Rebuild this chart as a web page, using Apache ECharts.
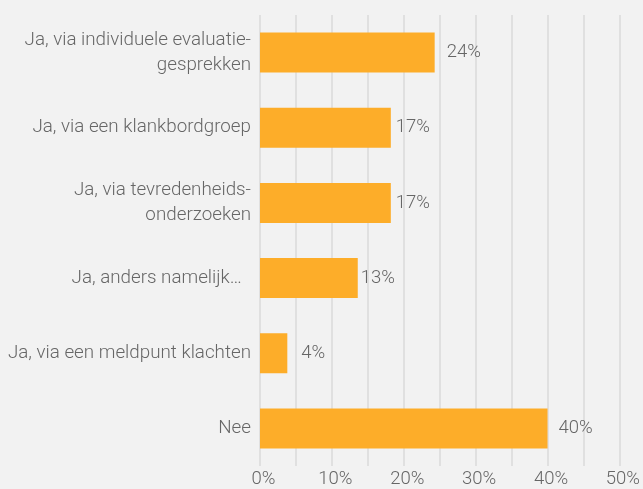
<!DOCTYPE html>
<html>
<head>
<meta charset="utf-8">
<script src="https://cdn.jsdelivr.net/npm/echarts@6/dist/echarts.min.js"></script>
<style>
  html, body { margin: 0; padding: 0; background: #f2f2f2; }
  #chart { width: 643px; height: 489px; }
</style>
</head>
<body>
<div id="chart"></div>
<script>
// antwoorden
var categories = [
  'Ja, via individuele evaluatie-\ngesprekken',
  'Ja, via een klankbordgroep',
  'Ja, via tevredenheids-\nonderzoeken',
  'Ja, anders namelijk…  ',
  'Ja, via een meldpunt klachten',
  'Nee'
];
var values = [24.3, 18.2, 18.2, 13.6, 3.8, 40.0];
var valueLabels = ['24%', '17%', '17%', '13%', '4%', '40%'];
var tickLabels = ['0%', '10%', '20%', '30%', '40%', '50%'];

var labelGap = [12, 5, 5, 3, 14, 11];

var chart = echarts.init(document.getElementById('chart'));
var textColor = '#666666';

var option = {
  backgroundColor: '#f2f2f2',
  textStyle: { fontFamily: 'Roboto', fontWeight: 300 },
  grid: { left: 260, right: 23, top: 15, bottom: 22 },
  xAxis: {
    type: 'value',
    min: 0,
    max: 50,
    interval: 5,
    axisLine: { show: false },
    axisTick: { show: false },
    splitLine: { lineStyle: { color: '#dadada', width: 1.5 } },
    axisLabel: {
      color: textColor,
      fontSize: 18.5,
      fontWeight: 300,
      margin: 4,
      padding: [0, 0, 0, 7],
      formatter: function (v) {
        return v % 10 === 0 ? tickLabels[v / 10] : '';
      }
    }
  },
  yAxis: {
    type: 'category',
    inverse: true,
    data: categories,
    axisLine: { show: false },
    axisTick: { show: false },
    axisLabel: {
      color: textColor,
      fontSize: 18.8,
      fontWeight: 300,
      lineHeight: 25,
      margin: 9,
      align: 'right'
    }
  },
  series: [{
    type: 'bar',
    barWidth: 40,
    itemStyle: { color: '#fdad29' },
    data: values.map(function (v, i) {
      return {
        value: v,
        label: {
          show: true,
          position: 'right',
          distance: labelGap[i],
          formatter: valueLabels[i],
          color: textColor,
          fontSize: 18.5,
          fontWeight: 300,
          padding: [3, 0, 0, 0]
        }
      };
    })
  }]
};

chart.setOption(option);
</script>
</body>
</html>
